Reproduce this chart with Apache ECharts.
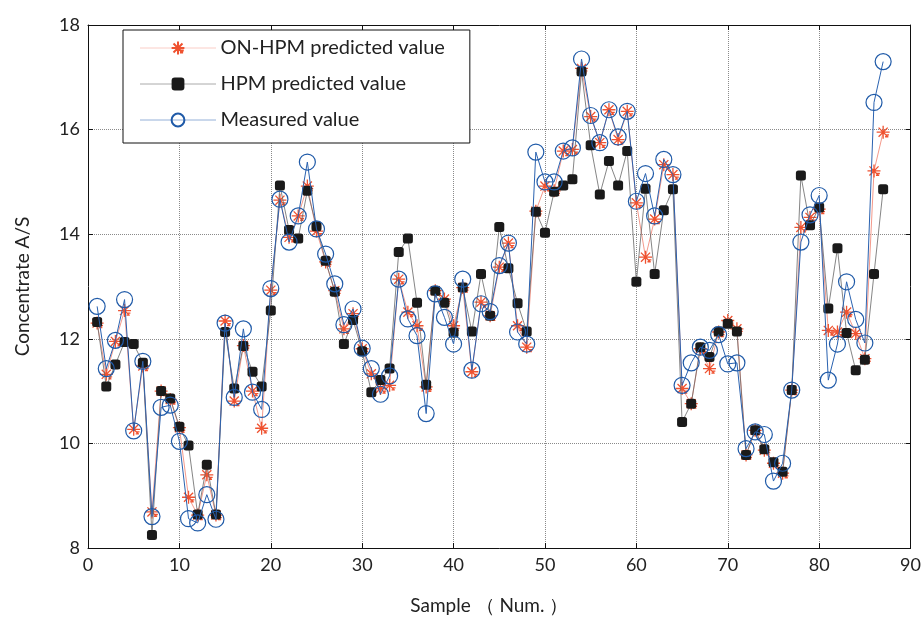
<!DOCTYPE html>
<html><head><meta charset="utf-8">
<script src="https://cdn.jsdelivr.net/npm/echarts@6/dist/echarts.min.js"></script>
<style>html,body{margin:0;padding:0;background:#fff}#c{width:924px;height:620px}</style>
</head><body><div id="c"></div>
<script>
const samples = [1,2,3,4,5,6,7,8,9,10,11,12,13,14,15,16,17,18,19,20,21,22,23,24,25,26,27,28,29,30,31,32,33,34,35,36,37,38,39,40,41,42,43,44,45,46,47,48,49,50,51,52,53,54,55,56,57,58,59,60,61,62,63,64,65,66,67,68,69,70,71,72,73,74,75,76,77,78,79,80,81,82,83,84,85,86,87];
const onHpm = [12.30,11.32,11.95,12.54,10.27,11.48,8.69,11.00,10.84,10.30,8.97,8.63,9.40,8.63,12.34,10.81,11.87,11.00,10.29,12.93,14.65,13.94,14.35,14.92,14.06,13.47,12.92,12.19,12.48,11.81,11.33,11.05,11.11,13.14,12.51,12.25,11.08,12.92,12.76,12.25,12.98,11.37,12.70,12.44,13.37,13.83,12.25,11.84,14.44,14.92,14.83,15.59,15.62,17.17,16.25,15.75,16.38,15.81,16.35,14.60,13.56,14.29,15.33,15.14,11.05,10.76,11.81,11.43,12.13,12.35,12.19,9.78,10.25,9.87,9.62,9.43,11.02,14.13,14.32,14.48,12.16,12.13,12.51,12.10,11.62,15.21,15.95];
const hpm = [12.32,11.09,11.51,11.94,11.90,11.54,8.25,11.00,10.86,10.32,9.96,8.64,9.59,8.64,12.13,11.05,11.86,11.37,11.09,12.54,14.93,14.08,13.92,14.83,14.15,13.49,12.90,11.90,12.36,11.76,10.98,11.21,11.43,13.66,13.92,12.69,11.12,12.92,12.69,12.12,12.98,12.14,13.24,12.44,14.14,13.35,12.68,12.14,14.43,14.03,14.81,14.93,15.05,17.11,15.70,14.76,15.40,14.93,15.59,13.09,14.87,13.24,14.46,14.86,10.41,10.76,11.84,11.65,12.14,12.29,12.14,9.78,10.25,9.89,9.64,9.46,11.02,15.12,14.17,14.51,12.58,13.73,12.11,11.40,11.60,13.24,14.86];
const measured = [12.62,11.43,11.97,12.75,10.24,11.57,8.60,10.69,10.73,10.04,8.56,8.48,9.02,8.55,12.30,10.88,12.19,10.98,10.65,12.96,14.67,13.85,14.35,15.38,14.10,13.62,13.05,12.27,12.57,11.82,11.43,10.94,11.29,13.14,12.38,12.06,10.57,12.86,12.41,11.90,13.14,11.40,12.67,12.52,13.40,13.83,12.13,11.90,15.57,15.00,15.00,15.59,15.65,17.35,16.27,15.75,16.38,15.86,16.35,14.63,15.16,14.35,15.43,15.14,11.11,11.54,11.84,11.78,12.08,11.52,11.54,9.90,10.22,10.17,9.28,9.62,11.02,13.85,14.37,14.74,11.21,11.90,13.09,12.37,11.92,16.52,17.30];
const seriesNames = ['ON-HPM predicted value','HPM predicted value','Measured value'];
const xTicks = [0,10,20,30,40,50,60,70,80,90];
const yTicks = [8,10,12,14,16,18];

const pair = arr => samples.map((s,i)=>[s,arr[i]]);
const font = 'Lato, "Open Sans", sans-serif';
const starPath = 'path://M0,-10L0,10M-10,0L10,0M-7,-7L7,7M-7,7L7,-7M3,4L9,4M3,7L8,7';

const chart = echarts.init(document.getElementById('c'), null, {renderer:'canvas'});
const gridLine = {show:true, lineStyle:{color:'#8a8a8a', type:'dotted', width:1}};
chart.setOption({
  animation:false,
  backgroundColor:'#fff',
  grid:{left:88, right:12, top:25, bottom:70, show:false},
  legend:{
    orient:'vertical', left:123, top:30,
    backgroundColor:'#fff', borderColor:'#111', borderWidth:1,
    padding:[8,25,13,17], itemGap:16, itemWidth:75, itemHeight:16,
    textStyle:{fontFamily:font, fontSize:20, color:'#222'},
    data:[
      {name:seriesNames[0], lineStyle:{width:1, type:'dotted', color:'#f49a8c'}},
      {name:seriesNames[1], lineStyle:{width:1, type:'dotted', color:'#555'}},
      {name:seriesNames[2], lineStyle:{width:1, type:'dotted', color:'#2a62b0'}}
    ]
  },
  xAxis:[{
    type:'value', min:xTicks[0], max:xTicks[xTicks.length-1], interval:10,
    position:'bottom',
    name:'Sample （ Num. ）', nameLocation:'middle', nameGap:48,
    nameTextStyle:{fontFamily:font, fontSize:19, color:'#222', padding:[0,20,0,0]},
    axisLine:{show:true, onZero:false, lineStyle:{color:'#111', width:1}},
    axisTick:{show:true, inside:true, length:5, lineStyle:{color:'#111'}},
    axisLabel:{fontFamily:font, fontSize:18, color:'#222', margin:8},
    splitLine:gridLine
  },{
    type:'value', min:0, max:90, interval:10, position:'top',
    axisLine:{show:true, onZero:false, lineStyle:{color:'#111', width:1}},
    axisTick:{show:true, inside:true, length:5, lineStyle:{color:'#111'}},
    axisLabel:{show:false}, splitLine:{show:false}
  }],
  yAxis:[{
    type:'value', min:yTicks[0], max:yTicks[yTicks.length-1], interval:2,
    position:'left',
    name:'Concentrate A/S', nameLocation:'middle', nameGap:56, nameRotate:90,
    nameTextStyle:{fontFamily:font, fontSize:19, color:'#222'},
    axisLine:{show:true, onZero:false, lineStyle:{color:'#111', width:1}},
    axisTick:{show:true, inside:true, length:5, lineStyle:{color:'#111'}},
    axisLabel:{fontFamily:font, fontSize:18, color:'#222', margin:8},
    splitLine:gridLine
  },{
    type:'value', min:8, max:18, interval:2, position:'right',
    axisLine:{show:true, onZero:false, lineStyle:{color:'#111', width:1}},
    axisTick:{show:true, inside:true, length:5, lineStyle:{color:'#111'}},
    axisLabel:{show:false}, splitLine:{show:false}
  }],
  series:[{
    name:seriesNames[0], type:'line', data:pair(onHpm),
    symbol:starPath, symbolSize:13, showAllSymbol:true,
    lineStyle:{color:'#f49a8c', width:1},
    itemStyle:{color:'rgba(0,0,0,0)', borderColor:'#ef5230', borderWidth:1.3},
    z:2
  },{
    name:seriesNames[1], type:'line', data:pair(hpm),
    symbol:'roundRect', symbolSize:10, showAllSymbol:true,
    lineStyle:{color:'#666', width:0.8},
    itemStyle:{color:'#1a1a1a'},
    z:3
  },{
    name:seriesNames[2], type:'line', data:pair(measured),
    symbol:'circle', symbolSize:16, showAllSymbol:true,
    lineStyle:{color:'#2a62b0', width:1},
    itemStyle:{color:'rgba(0,0,0,0)', borderColor:'#1f5aa8', borderWidth:1.2},
    z:4
  }]
});
</script></body></html>
